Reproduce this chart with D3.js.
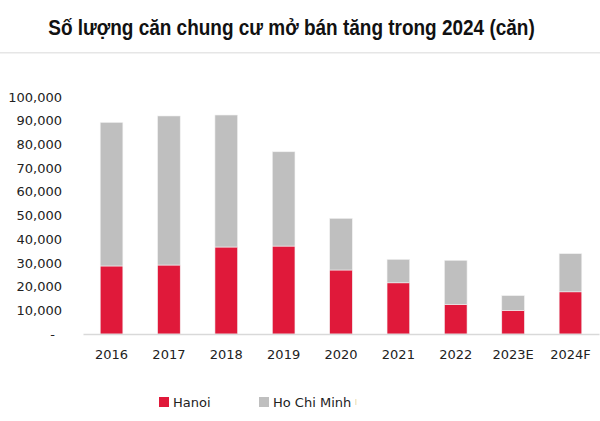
<!DOCTYPE html>
<html>
<head>
<meta charset="utf-8">
<script src="https://cdnjs.cloudflare.com/ajax/libs/d3/7.8.5/d3.min.js"></script>
<style>
  body { margin: 0; background: #fff; }
  svg { display: block; }
</style>
</head>
<body>
<div id="chart"></div>
<script>
// dữ liệu
const years = ['2016', '2017', '2018', '2019', '2020', '2021', '2022', '2023E', '2024F'];
const hanoi = [28700, 29100, 36700, 37100, 27000, 21600, 12500, 10000, 17800];
const hcmTotal = [89300, 92000, 92400, 76900, 48800, 31500, 31100, 16200, 33900];
const hcm = hcmTotal.map((t, i) => t - hanoi[i]);
const yTicks = [0, 10000, 20000, 30000, 40000, 50000, 60000, 70000, 80000, 90000, 100000];

const W = 600, H = 421;
const m = { top: 97, right: 1, bottom: 87, left: 83 };

const svg = d3.select('#chart').append('svg')
  .attr('width', W).attr('height', H);

// tiêu đề (nén ngang cho giống Arial Narrow)
const title = svg.append('text')
  .attr('text-anchor', 'middle')
  .style('font-family', "'Liberation Sans', Arial, sans-serif")
  .style('font-weight', 'bold')
  .style('font-size', '22.5px')
  .style('fill', '#111')
  .text('Số lượng căn chung cư mở bán tăng trong 2024 (căn)');
const tw = title.node().getComputedTextLength() || 487;
title.attr('transform', `translate(291.5,35) scale(${487 / tw},1)`);

svg.append('rect')
  .attr('x', 0).attr('y', 52).attr('width', W).attr('height', 1.5)
  .attr('fill', '#e6e6e6');

const x = d3.scaleBand()
  .domain(years)
  .range([m.left, W - m.right])
  .paddingInner(0.605)
  .paddingOuter(0.3);

const y = d3.scaleLinear()
  .domain([0, 100000])
  .range([H - m.bottom, m.top]);

const stack = d3.stack().keys(['hanoi', 'hcm']);
const rows = years.map((yr, i) => ({ year: yr, hanoi: hanoi[i], hcm: hcm[i] }));
const series = stack(rows);
const colors = { hanoi: '#e0193a', hcm: '#bfbfbf' };

svg.append('g').selectAll('g')
  .data(series).join('g')
  .attr('fill', d => colors[d.key])
  .selectAll('rect')
  .data(d => d).join('rect')
  .attr('x', d => x(d.data.year))
  .attr('width', x.bandwidth())
  .attr('y', d => y(d[1]))
  .attr('height', d => y(d[0]) - y(d[1]))
  .attr('stroke', '#f2f2f2')
  .attr('stroke-width', 0.6);

// trục y
const fmt = d3.format(',');
const yAxis = svg.append('g')
  .attr('transform', `translate(${m.left - 21},0)`)
  .call(d3.axisLeft(y).tickValues(yTicks).tickSize(0).tickPadding(0)
    .tickFormat(d => d === 0 ? '-' : fmt(d)));
yAxis.select('.domain').remove();
yAxis.selectAll('text')
  .style('font-family', "'DejaVu Sans', Verdana, sans-serif")
  .style('font-size', '13px')
  .style('fill', '#222');
yAxis.selectAll('.tick')
  .filter(d => d === 0)
  .select('text')
  .attr('x', -7);

// trục x
const xAxis = svg.append('g')
  .attr('transform', `translate(0,${H - m.bottom})`)
  .call(d3.axisBottom(x).tickSize(0).tickPadding(16));
xAxis.select('.domain')
  .attr('stroke', '#d9d9d9')
  .attr('stroke-width', 1.5);
xAxis.selectAll('text')
  .style('font-family', "'DejaVu Sans', Verdana, sans-serif")
  .style('font-size', '13px')
  .style('fill', '#222');

// chú thích
const legend = [
  { label: 'Hanoi', color: colors.hanoi, x: 159 },
  { label: 'Ho Chi Minh', color: colors.hcm, x: 259 }
];
const lg = svg.append('g').selectAll('g')
  .data(legend).join('g')
  .attr('transform', d => `translate(${d.x},402)`);
lg.append('rect')
  .attr('x', 0).attr('y', -5).attr('width', 10).attr('height', 10)
  .attr('fill', d => d.color);
lg.append('text')
  .attr('x', 14).attr('y', 5)
  .style('font-family', "'DejaVu Sans', Verdana, sans-serif")
  .style('font-size', '13px')
  .style('fill', '#222')
  .text(d => d.label);
svg.append('rect')
  .attr('x', 355).attr('y', 399).attr('width', 1.5).attr('height', 6)
  .attr('fill', '#f3e8c8');
</script>
</body>
</html>
